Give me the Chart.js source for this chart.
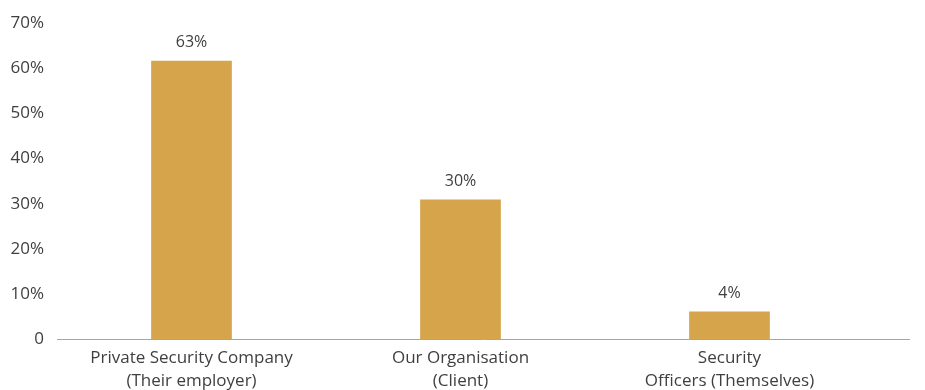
<!DOCTYPE html>
<html>
<head>
<meta charset="utf-8">
<script src="https://cdn.jsdelivr.net/npm/chart.js@4/dist/chart.umd.min.js"></script>
<style>
  html, body { margin: 0; padding: 0; background: #fff; }
  #wrap { width: 925px; height: 390px; }
</style>
</head>
<body>
<div id="wrap"><canvas id="barChart" width="925" height="390"></canvas></div>
<script>
// Data
const categories = [
    ['Private Security Company', '(Their employer)'],
    ['Our Organisation', '(Client)'],
    ['Security', 'Officers (Themselves)']
];
const shares = [61.7, 30.9, 6.1];          // bar heights as drawn
const shareLabels = ['63%', '30%', '4%'];  // labels printed above bars
const yTicks = [0, 10, 20, 30, 40, 50, 60, 70];

const BAR_COLOR = '#d6a44a';
const TEXT_COLOR = '#3f3f3f';
const AXIS_COLOR = '#a6a6a6';
const FONT = '"Open Sans", "Noto Sans", sans-serif';

// Baseline running past the last category, plus value labels
const extrasPlugin = {
    id: 'extras',
    beforeDatasetsDraw(chart) {
        const c = chart.ctx;
        const y = Math.round(chart.scales.y.getPixelForValue(0)) + 0.5;
        c.save();
        c.strokeStyle = AXIS_COLOR;
        c.lineWidth = 1;
        c.beginPath();
        c.moveTo(chart.chartArea.left, y);
        c.lineTo(910, y);
        c.stroke();
        c.restore();
    },
    afterDatasetsDraw(chart) {
        const c = chart.ctx;
        const meta = chart.getDatasetMeta(0);
        c.save();
        c.fillStyle = TEXT_COLOR;
        c.font = '16px ' + FONT;
        c.textAlign = 'center';
        c.textBaseline = 'middle';
        meta.data.forEach((bar, i) => {
            c.fillText(shareLabels[i], bar.x, bar.y - 18);
        });
        c.restore();
    }
};

const ctx = document.getElementById('barChart').getContext('2d');
new Chart(ctx, {
    type: 'bar',
    data: {
        labels: categories,
        datasets: [{
            data: shares,
            backgroundColor: BAR_COLOR,
            borderWidth: 0,
            categoryPercentage: 1,
            barPercentage: 0.3
        }]
    },
    options: {
        responsive: false,
        animation: false,
        layout: {
            padding: { top: 19, right: 61, left: 0, bottom: 0 }
        },
        scales: {
            x: {
                grid: { display: false, drawTicks: false },
                border: { display: false },
                ticks: {
                    color: TEXT_COLOR,
                    font: { family: FONT, size: 17, lineHeight: 1.35 },
                    padding: 8,
                    maxRotation: 0,
                    autoSkip: false
                },
                afterFit(scale) { scale.height = 51; }
            },
            y: {
                min: 0,
                max: 70,
                afterBuildTicks(scale) {
                    scale.ticks = yTicks.map(v => ({ value: v }));
                },
                grid: { display: false, drawTicks: false },
                border: { display: false },
                ticks: {
                    color: TEXT_COLOR,
                    font: { family: FONT, size: 17 },
                    padding: 13,
                    callback: v => v === 0 ? '0' : v + '%'
                },
                afterFit(scale) { scale.width = 57; }
            }
        },
        plugins: {
            legend: { display: false },
            tooltip: { enabled: false }
        }
    },
    plugins: [extrasPlugin]
});
</script>
</body>
</html>
